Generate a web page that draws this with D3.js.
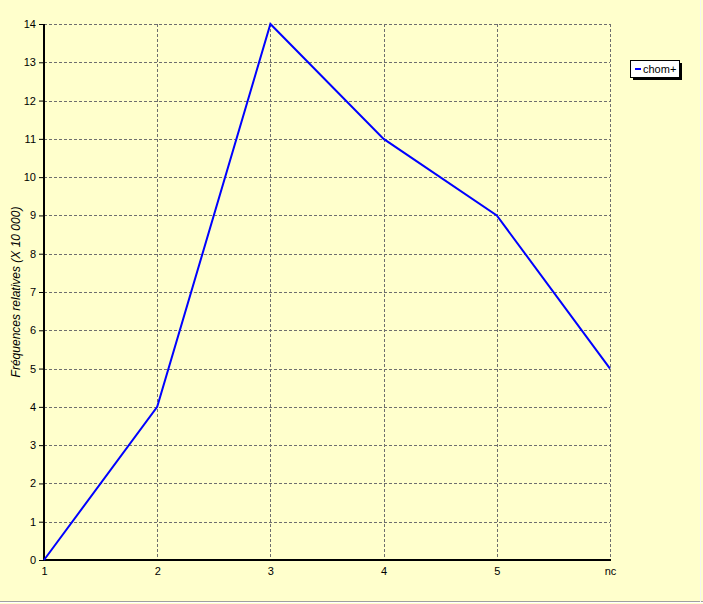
<!DOCTYPE html>
<html lang="fr">
<head>
    <meta charset="UTF-8">
    <title>chom+</title>
    <style>
        body {
            margin: 0;
            overflow: hidden;
            background-color: #ffffcc;
            font-family: Arial, "Liberation Sans", sans-serif;
        }
        svg { display: block; }
        .tick text { font-size: 11px; fill: #000; }
    </style>
</head>
<body>
    <svg id="chart" width="703" height="604"></svg>
    <script src="https://d3js.org/d3.v7.min.js"></script>
    <script>
        const categories = ["1", "2", "3", "4", "5", "nc"];
        const values = [0, 4, 14, 11, 9, 5];
        const yTicks = d3.range(0, 15);
        const seriesName = "chom+";

        const W = 703, H = 604;
        const margin = { top: 24, right: 93, bottom: 44, left: 44 };
        const svg = d3.select("#chart");

        svg.append("rect").attr("width", W).attr("height", H).attr("fill", "#ffffcc");
        // frame edges
        svg.append("line").attr("x1", 0).attr("x2", W).attr("y1", 601.5).attr("y2", 601.5)
            .attr("stroke", "#a0a0a0");
        svg.append("line").attr("x1", 0).attr("x2", W).attr("y1", 602.5).attr("y2", 602.5)
            .attr("stroke", "#ffffff");
        svg.append("line").attr("x1", 700.5).attr("x2", 700.5).attr("y1", 0).attr("y2", 602)
            .attr("stroke", "#f4f4f4");

        const x = d3.scalePoint()
            .domain(categories)
            .range([margin.left, W - margin.right]);
        const y = d3.scaleLinear()
            .domain([0, 14])
            .range([H - margin.bottom, margin.top]);

        // grid
        const grid = svg.append("g")
            .attr("stroke", "#6e6e6e")
            .attr("stroke-dasharray", "3,2")
            .attr("shape-rendering", "crispEdges");
        grid.selectAll("line.h")
            .data(yTicks.filter(d => d > 0))
            .join("line")
            .attr("class", "h")
            .attr("x1", margin.left).attr("x2", W - margin.right)
            .attr("y1", d => Math.round(y(d)) + 0.5).attr("y2", d => Math.round(y(d)) + 0.5);
        grid.selectAll("line.v")
            .data(categories.slice(1))
            .join("line")
            .attr("class", "v")
            .attr("y1", margin.top).attr("y2", H - margin.bottom)
            .attr("x1", d => Math.round(x(d)) + 0.5).attr("x2", d => Math.round(x(d)) + 0.5);

        // axes
        const yAxis = svg.append("g")
            .attr("transform", `translate(${margin.left},0)`)
            .call(d3.axisLeft(y).tickValues(yTicks).tickSize(5).tickPadding(3));
        yAxis.select(".domain").remove();
        yAxis.selectAll(".tick line").attr("stroke", "#000");

        const xAxis = svg.append("g")
            .attr("transform", `translate(0,${H - margin.bottom})`)
            .call(d3.axisBottom(x).tickSize(0).tickPadding(7));
        xAxis.select(".domain").remove();

        svg.append("line")
            .attr("x1", margin.left).attr("x2", margin.left)
            .attr("y1", margin.top).attr("y2", H - margin.bottom + 1)
            .attr("stroke", "#000").attr("stroke-width", 2);
        svg.append("line")
            .attr("x1", margin.left - 1).attr("x2", W - margin.right + 1)
            .attr("y1", H - margin.bottom).attr("y2", H - margin.bottom)
            .attr("stroke", "#000").attr("stroke-width", 2);

        // series
        const line = d3.line()
            .x((d, i) => x(categories[i]))
            .y(d => y(d));
        svg.append("path")
            .datum(values)
            .attr("fill", "none")
            .attr("stroke", "#0000ff")
            .attr("stroke-width", 2)
            .attr("stroke-linejoin", "miter")
            .attr("d", line);

        // y label
        svg.append("text")
            .attr("transform", `translate(20,${(margin.top + H - margin.bottom) / 2}) rotate(-90)`)
            .attr("text-anchor", "middle")
            .attr("font-size", 12)
            .attr("font-style", "italic")
            .text("Fréquences relatives (X 10 000)");

        // legend
        const lg = svg.append("g").attr("transform", "translate(630,60)");
        lg.append("rect").attr("x", 3).attr("y", 3).attr("width", 49).attr("height", 17).attr("fill", "#000");
        lg.append("rect").attr("x", 0.5).attr("y", 0.5).attr("width", 49).attr("height", 17)
            .attr("fill", "#fff").attr("stroke", "#000");
        lg.append("line").attr("x1", 5).attr("x2", 11).attr("y1", 9).attr("y2", 9)
            .attr("stroke", "#0000ff").attr("stroke-width", 2);
        lg.append("text").attr("x", 13).attr("y", 13).attr("font-size", 11).text(seriesName);
    </script>
</body>
</html>
